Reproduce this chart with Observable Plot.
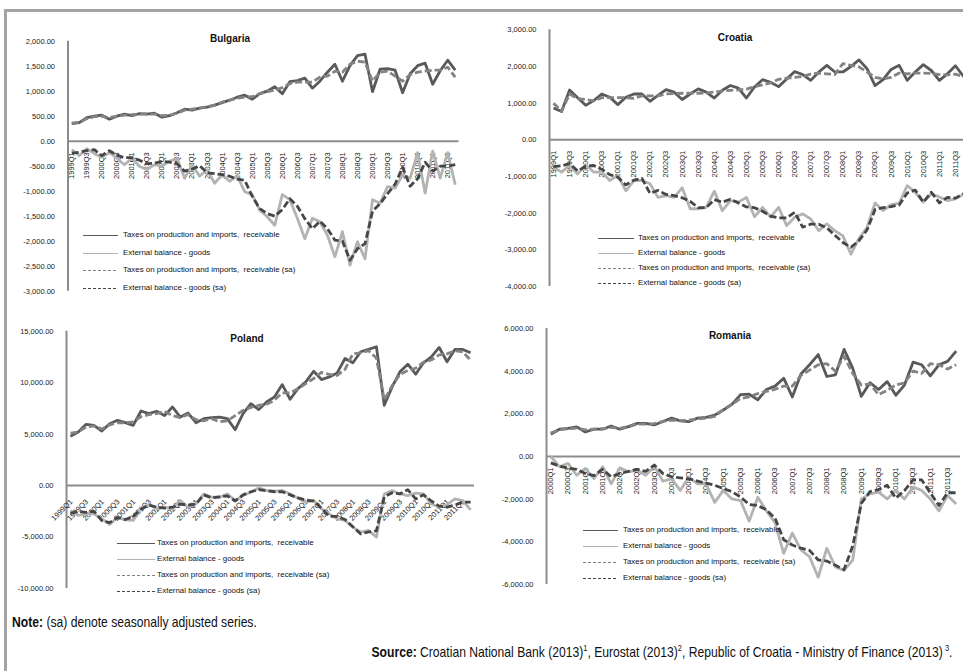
<!DOCTYPE html>
<html><head><meta charset="utf-8">
<script src="https://cdn.jsdelivr.net/npm/d3@7"></script>
<script src="https://cdn.jsdelivr.net/npm/@observablehq/plot@0.6"></script>
<style>
body{margin:0;background:#fff;}
#wrap{position:relative;width:963px;height:671px;overflow:hidden;font-family:"Liberation Sans",Arial,sans-serif;background:#fff;}
#frame{position:absolute;left:4px;top:9px;width:1100px;height:800px;border:3px solid #a3a3a3;box-sizing:border-box;}
.panel{position:absolute;}
.title{position:absolute;font-weight:bold;font-size:10px;transform:translate(-50%,-50%);white-space:nowrap;color:#111;}
.legrow{position:absolute;height:10px;font-size:7.9px;white-space:pre;color:#111;}
.legrow svg{position:absolute;left:0;top:0;}
.legrow span{position:absolute;top:0;line-height:10px;}
.foot{position:absolute;font-size:14.8px;white-space:nowrap;color:#111;line-height:16px;}
</style></head>
<body>
<div id="wrap"><div id="frame"></div></div>
<script>
// ---------- categories ----------
const qNames = ["Q1","Q2","Q3","Q4"];
const yearsLong = [1999,2000,2001,2002,2003,2004,2005,2006,2007,2008,2009,2010,2011];
const yearsRo = [2000,2001,2002,2003,2004,2005,2006,2007,2008,2009,2010,2011];
const catsLong = yearsLong.flatMap(y => qNames.map(q => y + q));
const catsRo = yearsRo.flatMap(y => qNames.map(q => y + q));

const legendLabels = [
  "Taxes on production and imports,  receivable",
  "External balance - goods",
  "Taxes on production and imports,  receivable (sa)",
  "External balance - goods (sa)"
];

// ---------- tick values ----------
const ticksBG = [-3000,-2500,-2000,-1500,-1000,-500,0,500,1000,1500,2000];
const ticksHR = [-4000,-3000,-2000,-1000,0,1000,2000,3000];
const ticksPL = [-10000,-5000,0,5000,10000,15000];
const ticksRO = [-6000,-4000,-2000,0,2000,4000,6000];

// ---------- Bulgaria ----------
const bgTaxes = [350,370,470,500, 520,440,500,540, 510,550,540,560, 480,510,570,640, 620,660,680,720, 770,820,880,920, 840,950,1000,1090, 950,1190,1210,1260, 1060,1200,1380,1540, 1200,1510,1710,1740, 990,1440,1450,1420, 970,1350,1510,1560, 1140,1410,1620,1420];
const bgExt = [-170,-290,-150,-250, -320,-230,-340,-470, -340,-500,-570,-470, -500,-400,-340,-740, -470,-700,-570,-840, -670,-800,-700,-1010, -1070,-1380,-1510,-1680, -1070,-1170,-1540,-1950, -1540,-1610,-1880,-2310, -1810,-2480,-2010,-2350, -1170,-1240,-910,-940, -670,-740,-230,-1040, -200,-740,-230,-870];
const bgTaxesSA = [360,380,450,490, 500,470,500,520, 530,540,545,540, 510,520,560,620, 640,660,690,720, 780,820,860,880, 890,950,990,1020, 1070,1150,1180,1180, 1180,1280,1300,1400, 1380,1540,1600,1580, 1200,1380,1400,1300, 1200,1330,1380,1400, 1420,1420,1480,1280];
const bgExtSA = [-240,-220,-190,-170, -290,-190,-280,-330, -330,-380,-450,-440, -400,-420,-450,-600, -560,-490,-630,-650, -670,-700,-760,-780, -1100,-1350,-1450,-1500, -1370,-1150,-1300,-1550, -1750,-1600,-1750,-1980, -2000,-2380,-2150,-2050, -1400,-1250,-1050,-860, -520,-900,-750,-420, -600,-500,-500,-470];

// ---------- Croatia ----------
const hrTaxes = [870,770,1360,1150, 940,1070,1250,1160, 960,1160,1250,1250, 1050,1210,1370,1300, 1100,1250,1390,1300, 1140,1350,1480,1410, 1140,1440,1640,1570, 1450,1660,1860,1780, 1620,1850,2030,1850, 1850,2000,2180,1940, 1480,1640,1920,2030, 1620,1850,2050,1890, 1620,1800,2020,1730];
const hrExt = [-750,-880,-700,-930, -680,-880,-880,-1110, -970,-1390,-1110,-1110, -1200,-1570,-1520,-1570, -1310,-1880,-1880,-1840, -1400,-1930,-1660,-1700, -1570,-2100,-1840,-2110, -1840,-2340,-2110,-2020, -2160,-2480,-2290,-2480, -2620,-3120,-2690,-2390, -1720,-1930,-1770,-1730, -1250,-1430,-1700,-1470, -1560,-1660,-1610,-1490];
const hrTaxesSA = [1000,780,1250,1120, 1100,1060,1150,1150, 1150,1150,1130,1200, 1200,1200,1250,1260, 1270,1270,1270,1280, 1300,1330,1350,1360, 1380,1450,1500,1550, 1650,1680,1700,1730, 1790,1820,1800,1780, 2080,2030,1990,1850, 1700,1660,1700,1820, 1800,1820,1820,1810, 1780,1770,1790,1720];
const hrExtSA = [-730,-710,-650,-850, -720,-700,-800,-950, -1020,-1230,-1100,-1050, -1460,-1380,-1490,-1520, -1580,-1680,-1850,-1850, -1630,-1700,-1620,-1720, -1830,-1850,-1950,-2080, -2130,-2130,-1980,-2380, -2300,-2300,-2400,-2600, -2800,-2930,-2750,-2460, -1900,-1850,-1820,-1780, -1450,-1370,-1700,-1430, -1720,-1570,-1590,-1470];

// ---------- Poland ----------
const plTaxes = [4780,5200,5950,5850, 5300,6010,6340,6110, 5850,7250,6990,7220, 6800,7640,6660,7050, 6110,6500,6600,6660, 6500,5430,6990,7960, 7380,8130,8610,9810, 8390,9420,10070,11110, 10300,10560,10950,12350, 11930,13000,13230,13490, 7800,9590,11050,11800, 10820,11930,12510,13420, 12030,13230,13230,12900];
const plExt = [-2420,-2900,-2750,-2750, -3230,-3780,-3070,-3330, -3390,-2160,-1840,-2260, -2100,-2260,-1450,-2100, -1780,-810,-1130,-1130, -810,-1450,-970,-650, -230,-480,-550,-480, -810,-1200,-1620,-1450, -2260,-2750,-3230,-3390, -4040,-4520,-4360,-5010, -810,-480,-810,-970, -740,-810,-1780,-2100, -1840,-1290,-1450,-2360];
const plTaxesSA = [5100,5200,5700,5800, 5500,5900,6100,6100, 6200,6700,6900,7000, 7200,6800,6600,6900, 6400,6300,6500,6200, 6300,6800,7300,7600, 7800,7900,8300,9000, 9000,9400,9900,10400, 11000,10800,10700,11300, 12800,12900,13100,12400, 8300,9700,10800,11200, 11400,12000,12200,12700, 12800,13100,13000,12200];
const plExtSA = [-2700,-2500,-2600,-2500, -3400,-3600,-3100,-3300, -3000,-2300,-1900,-2100, -2200,-2100,-1800,-1900, -1800,-900,-1200,-1100, -1000,-1500,-900,-600, -400,-500,-600,-600, -900,-1200,-1400,-1500, -2200,-3000,-3000,-3300, -4000,-4700,-4500,-4400, -1100,-700,-800,-400, -1300,-900,-1500,-2000, -2100,-1900,-1600,-1600];

// ---------- Romania ----------
const roTaxes = [1040,1280,1320,1390, 1150,1280,1280,1430, 1280,1400,1550,1550, 1480,1640,1800,1670, 1630,1800,1830,1940, 2180,2440,2900,2920, 2660,3140,3300,3670, 2790,3870,4300,4780, 3750,3830,5020,4140, 2820,3460,3140,3510, 2870,3350,4420,4300, 3780,4300,4460,4940];
const roExt = [0,-480,-320,-880, -560,-1040,-480,-1280, -530,-720,-640,-880, -450,-1160,-1040,-1590, -960,-1280,-1280,-2150, -1590,-1990,-2070,-3030, -1910,-2550,-3110,-4540, -3590,-4380,-4700,-5660, -4300,-5180,-5340,-4860, -1990,-1750,-1670,-1990, -1590,-1990,-1430,-1590, -1990,-2550,-1830,-2230];
const roTaxesSA = [1100,1250,1300,1330, 1250,1280,1300,1370, 1320,1400,1520,1520, 1540,1650,1700,1680, 1700,1760,1800,1880, 2200,2450,2720,2800, 2950,3050,3150,3300, 3300,3800,4050,4300, 4350,4000,4700,3900, 3350,3400,2900,3100, 3350,3450,4000,3900, 4350,4300,4100,4300];
const roExtSA = [-300,-450,-550,-600, -800,-900,-600,-950, -800,-700,-600,-700, -400,-800,-950,-1000, -1050,-1150,-1250,-1350, -1500,-1650,-1900,-2250, -2300,-2500,-2900,-3900, -4150,-4300,-4400,-4850, -4900,-5100,-5300,-4200, -2200,-1650,-1550,-1350, -1950,-1600,-1100,-1100, -1700,-2300,-1700,-1700];

// ---------- styles ----------
const C = {taxes:"#595959", ext:"#b3b3b3", taxesSA:"#838383", extSA:"#464646", axis:"#8c8c8c"};
const seriesStyle = [
  {stroke:C.taxes, dash:null},
  {stroke:C.ext, dash:null},
  {stroke:C.taxesSA, dash:"7,3"},
  {stroke:C.extSA, dash:"7,3"}
];
const fmt = d => d3.format(",.2f")(d).replace("\u2212","-");
const wrap = document.getElementById("wrap");

function panel(o) {
  const n = o.cats.length;
  const labelRows = o.cats.map((c,i)=>({i, c, z:0})).filter(d => d.i % 2 === 0);
  const series = [o.taxes, o.ext, o.taxesSA, o.extSA];
  const lineMarks = series.map((arr, k) => Plot.line(arr.map((v,i)=>({i, v})), {
    x:"i", y:"v", stroke: seriesStyle[k].stroke, strokeWidth: 2.8,
    strokeDasharray: seriesStyle[k].dash || undefined, strokeLinejoin:"round", strokeLinecap:"butt"
  }));
  const chart = Plot.plot({
    width:o.width, height:o.height,
    marginTop:o.mt, marginBottom:o.mb, marginLeft:o.ml, marginRight:o.mr,
    x:{domain:[-0.5, n-0.5], axis:null},
    y:{domain:[o.ticks[0], o.ticks[o.ticks.length-1]], axis:null, label:null},
    style:{fontFamily:'"Liberation Sans", Arial, sans-serif', fontSize:"7.5px", background:"transparent", overflow:"visible", color:"#1a1a1a"},
    marks:[
      Plot.ruleY([0], {stroke:C.axis, strokeWidth:2}),
      Plot.ruleX([-0.5], {stroke:C.axis, strokeWidth:2}),
      Plot.axisY({ticks:o.ticks, tickSize:0, tickPadding:13, tickFormat:fmt, fontSize:7.5, label:null}),
      Plot.text(labelRows, {x:"i", y:"z", text:"c", rotate:o.rot, textAnchor:"end", dy:o.ldy, dx:o.ldx||0, fontSize:7.5, fill:"#1a1a1a"}),
      ...lineMarks
    ]
  });
  chart.classList.add("panel");
  chart.style.left = o.left + "px";
  chart.style.top = o.top + "px";
  chart.style.position = "absolute";
  wrap.appendChild(chart);

  const t = document.createElement("div");
  t.className = "title";
  t.textContent = o.title;
  t.style.left = o.tx + "px"; t.style.top = o.ty + "px";
  wrap.appendChild(t);

  legendLabels.forEach((lab, k) => {
    const row = document.createElement("div");
    row.className = "legrow";
    row.style.left = o.lx + "px";
    row.style.top = (o.ly + k*o.lgap - 5) + "px";
    const s = seriesStyle[k];
    row.innerHTML = `<svg width="${o.llen}" height="10"><line x1="0" y1="5.5" x2="${o.llen}" y2="5.5" stroke="${s.stroke}" stroke-width="1" ${s.dash ? 'stroke-dasharray="3,2"' : ''}/></svg><span style="left:${o.ltx - o.lx}px">${lab}</span>`;
    wrap.appendChild(row);
  });
}

panel({title:"Bulgaria", cats:catsLong, taxes:bgTaxes, ext:bgExt, taxesSA:bgTaxesSA, extSA:bgExtSA, ticks:ticksBG,
  left:0, top:0, width:470, height:300, mt:40.7, mb:9.3, ml:67.5, mr:11.5, rot:-90, ldy:11,
  tx:230, ty:38, lx:83, llen:35, ltx:123, ly:235, lgap:17.7});
panel({title:"Croatia", cats:catsLong, taxes:hrTaxes, ext:hrExt, taxesSA:hrTaxesSA, extSA:hrExtSA, ticks:ticksHR,
  left:480, top:0, width:492, height:300, mt:29.3, mb:14, ml:69, mr:5, rot:-90, ldy:11,
  tx:735, ty:37, lx:598, llen:36, ltx:638, ly:238, lgap:15});
panel({title:"Poland", cats:catsLong, taxes:plTaxes, ext:plExt, taxesSA:plTaxesSA, extSA:plExtSA, ticks:ticksPL,
  left:0, top:300, width:480, height:300, mt:30.7, mb:12, ml:66, mr:6, rot:-45, ldy:15, ldx:1,
  tx:247, ty:338, lx:117, llen:38, ltx:157, ly:543, lgap:16});
panel({title:"Romania", cats:catsRo, taxes:roTaxes, ext:roExt, taxesSA:roTaxesSA, extSA:roExtSA, ticks:ticksRO,
  left:480, top:300, width:484, height:300, mt:28, mb:16, ml:66, mr:4, rot:-90, ldy:11,
  tx:730, ty:335, lx:583, llen:35, ltx:623, ly:530, lgap:16});

// ---------- footer ----------
const note = document.createElement("div");
note.className = "foot";
note.style.left = "12px"; note.style.top = "614px";
note.style.transform = "scaleX(0.82)"; note.style.transformOrigin = "left center";
note.innerHTML = "<b>Note:</b> (sa) denote seasonally adjusted series.";
wrap.appendChild(note);

const src = document.createElement("div");
src.className = "foot";
src.style.right = "11px"; src.style.top = "640px";
src.style.transform = "scaleX(0.82)"; src.style.transformOrigin = "right center";
src.innerHTML = "<b>Source:</b> Croatian National Bank (2013)<sup style='font-size:9px'>1</sup>, Eurostat (2013)<sup style='font-size:9px'>2</sup>, Republic of Croatia - Ministry of Finance (2013)<sup style='font-size:9px'> 3</sup>.";
wrap.appendChild(src);
</script>
</body></html>
